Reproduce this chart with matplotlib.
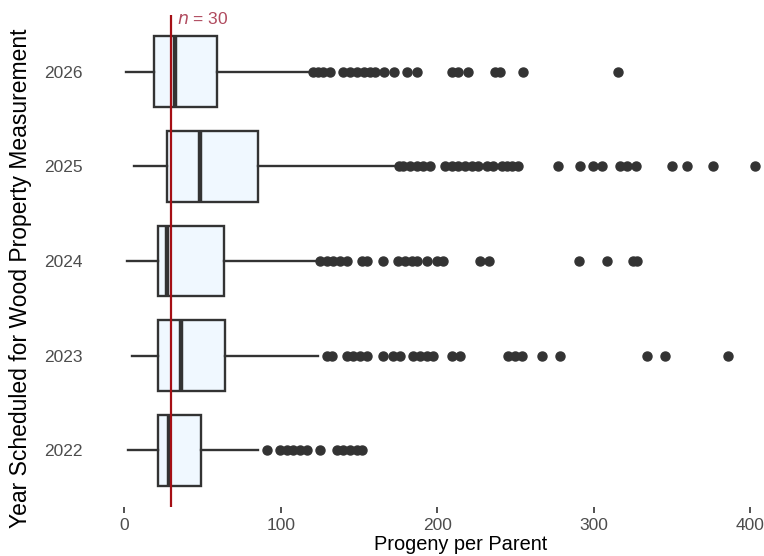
import matplotlib
matplotlib.use("Agg")
from matplotlib import pyplot as plt

plt.rcParams["font.family"] = ["Liberation Sans", "DejaVu Sans"]

years = ["2022", "2023", "2024", "2025", "2026"]

# five-number summaries per year: whisker low, Q1, median, Q3, whisker high
whis_lo = [2.6, 5.2, 1.5, 6.2, 1.0]
q1 = [21.7, 21.5, 21.8, 27.0, 19.0]
med = [28.6, 36.0, 27.5, 48.7, 32.5]
q3 = [48.8, 64.5, 63.5, 85.5, 59.0]
whis_hi = [85.6, 124.0, 123.0, 173.0, 119.0]

fliers_2022 = [91, 99.5, 103.8, 108, 112.3, 116.5, 125, 135.7, 140, 144.3,
               148.5, 152.1]
fliers_2023 = [129.3, 132.5, 142.1, 146.3, 150.6, 154.9, 165.5, 171.9, 176.2,
               184.7, 189, 193.2, 197.1, 209.2, 214.5, 245.4, 249.7, 253.9,
               266.7, 278.4, 334.2, 345.5, 386]
fliers_2024 = [125, 129.3, 133.5, 137.8, 142.1, 151.7, 154.9, 165.1, 175.1,
               179.4, 183.7, 187.2, 193.6, 199.6, 203.9, 227.3, 233.2, 290.7,
               308.6, 325.2, 327.5]
fliers_2025 = [175.5, 178.3, 182.6, 186.8, 191.1, 195.4, 205, 209.2, 213.4,
               217.7, 222, 226.2, 231.6, 235.6, 241.2, 244.3, 247.5, 251.8,
               277.3, 291.2, 299.7, 305, 316.7, 321, 327, 349.8, 359.4, 376.4,
               403]
fliers_2026 = [120.8, 124, 127, 131.4, 140, 144, 148.5, 153, 157, 160, 165.9,
               172.5, 180.8, 187.2, 209.2, 213.4, 219.8, 236.9, 240, 254.6,
               315.3]
fliers = [fliers_2022, fliers_2023, fliers_2024, fliers_2025, fliers_2026]

n_cut = 30

stats = []
for i, y in enumerate(years):
    stats.append({
        "label": y,
        "whislo": whis_lo[i],
        "q1": q1[i],
        "med": med[i],
        "q3": q3[i],
        "whishi": whis_hi[i],
        "fliers": fliers[i],
    })

fig = plt.figure(figsize=(7.64, 5.56), dpi=100)
ax = fig.add_axes([95 / 764, 49 / 556, 669 / 764, 492 / 556])

dark = "#333333"
ax.bxp(
    stats,
    positions=range(1, len(years) + 1),
    vert=False,
    widths=0.75,
    patch_artist=True,
    showcaps=False,
    boxprops=dict(facecolor="#f0f8ff", edgecolor=dark, linewidth=1.7),
    whiskerprops=dict(color=dark, linewidth=1.7),
    medianprops=dict(color=dark, linewidth=3.2),
    flierprops=dict(marker="o", markerfacecolor=dark, markeredgecolor=dark,
                    markersize=6.5, linestyle="none"),
    zorder=2,
)

# cut-off line for minimum family size
ax.axvline(n_cut, color="#a50f15", linewidth=1.6, zorder=3)
ax.text(n_cut + 3.8, 5.56, "$n$ = 30", color="#b04a5e", fontsize=12.5,
        va="center", ha="left")

ax.set_xlim(-18.7, 408.7)
ax.set_ylim(0.4, 5.6)
ax.set_xticks([0, 100, 200, 300, 400])
ax.set_yticks(range(1, len(years) + 1))
ax.set_yticklabels(years)

for s in ax.spines.values():
    s.set_visible(False)
ax.tick_params(axis="x", colors="#4d4d4d", labelsize=12.5, length=4,
               width=1.2, pad=4)
ax.tick_params(axis="y", colors="#4d4d4d", labelsize=12.5, length=0, pad=9)
ax.tick_params(axis="x", color="#333333")

ax.set_xlabel("Progeny per Parent", fontsize=14.4)
ax.set_ylabel("Year Scheduled for Wood Property Measurement", fontsize=16.5)
ax.xaxis.set_label_coords((461 - 95) / 669, -0.056)
ax.yaxis.set_label_coords(-0.094, (556 - 278 - 49) / 492)

fig.savefig("out.png", dpi=100)
